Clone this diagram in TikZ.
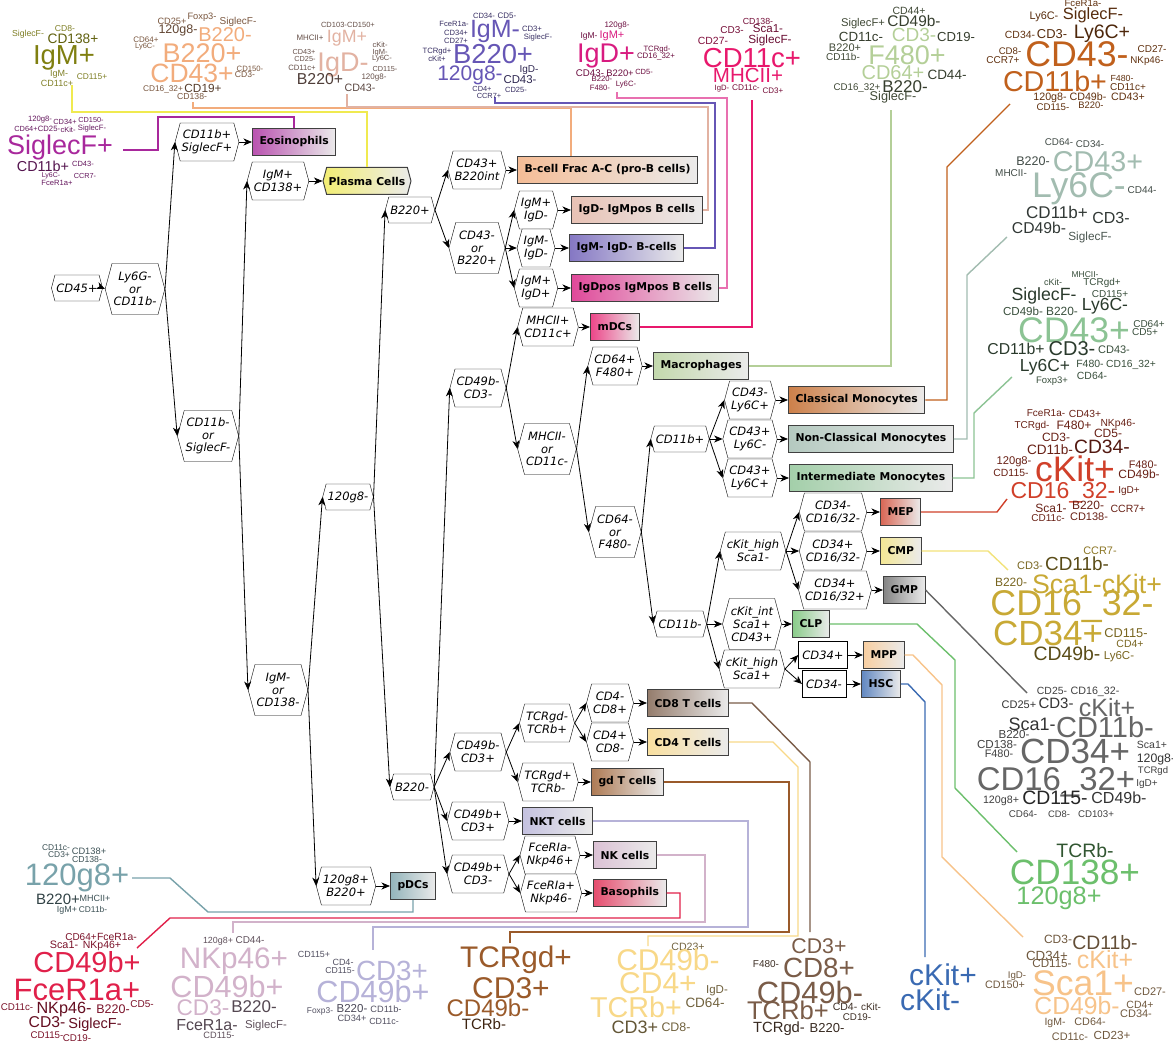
\documentclass[tikz,border=0pt]{standalone}
\usepackage{fontspec}
\setmainfont{DejaVu Sans}[ItalicFont={DejaVu Sans Oblique},BoldFont={DejaVu Sans Bold}]
\newfontfamily\cloudfont{Liberation Sans}
\usetikzlibrary{shapes.symbols,arrows.meta,calc}

% cell type colours
\definecolor{eos}{HTML}{A8289C}
\definecolor{pla}{HTML}{7F7F10}
\definecolor{pll}{HTML}{F0EA50}
\definecolor{bfr}{HTML}{F2AC7C}
\definecolor{idn}{HTML}{E2B2A2}
\definecolor{imn}{HTML}{6656B5}
\definecolor{idp}{HTML}{D81B80}
\definecolor{idl}{HTML}{E870B0}
\definecolor{mdc}{HTML}{E8186C}
\definecolor{mac}{HTML}{B4CF98}
\definecolor{cla}{HTML}{C0601C}
\definecolor{ncl}{HTML}{A2BCB0}
\definecolor{itm}{HTML}{8CC394}
\definecolor{mep}{HTML}{D0402A}
\definecolor{cmp}{HTML}{F2E27A}
\definecolor{cmt}{HTML}{C8A935}
\definecolor{gmp}{HTML}{666666}
\definecolor{clp}{HTML}{6CBF6C}
\definecolor{mpp}{HTML}{F7C38A}
\definecolor{hsc}{HTML}{3A6AB2}
\definecolor{cde}{HTML}{7A5C48}
\definecolor{cdf}{HTML}{F8D888}
\definecolor{gdt}{HTML}{9A5A2A}
\definecolor{nkt}{HTML}{B6B2D8}
\definecolor{nkc}{HTML}{D2B2CA}
\definecolor{bas}{HTML}{E0204A}
\definecolor{pdt}{HTML}{78A2AA}

\begin{document}
\begin{tikzpicture}
  [x=1pt,y=-1pt,
   every node/.style={font=\fontsize{11.5}{12.8}\selectfont},
   hex/.style={signal,signal to=east and west,signal pointer angle=150,draw,fill=white,
     align=center,inner xsep=1.5pt,inner ysep=3pt,minimum height=26pt,
     font=\fontsize{11.5}{12.8}\selectfont\itshape},
   two/.style={minimum height=38pt},
   three/.style={minimum height=51pt},
   plain/.style={draw,fill=white,minimum height=27pt,inner xsep=4pt,
     font=\fontsize{11.5}{12.8}\selectfont\itshape},
   cell/.style={draw=black!75,line width=1pt,anchor=west,minimum height=27pt,inner xsep=7pt,
     font=\fontsize{10.8}{12}\selectfont\bfseries,
     left color=#1!80!white,middle color=#1,right color=black!8},
   edge/.style={-{Stealth[length=8.5pt,width=7pt,inset=2.5pt]},line width=0.8pt},
   link/.style={draw=#1,line width=1.4pt},
   word/.style={anchor=base,inner sep=0pt}]
  \useasboundingbox (0,0) rectangle (1173,1043);

  % gates
  \node[hex] (cd45) at (77,288) {CD45+};
  \node[hex,three] (ly6g) at (135,289) {Ly6G-\\or\\CD11b-};
  \node[hex,two] (cd11bsig) at (207,142) {CD11b+\\SiglecF+};
  \node[hex,three] (cd11bneg) at (208,436) {CD11b-\\or\\SiglecF-};
  \node[hex,two] (igmcd138) at (278,181) {IgM+\\CD138+};
  \node[hex,three] (igmneg138) at (278,690) {IgM-\\or\\CD138-};
  \node[hex] (gneg) at (348,497) {120g8-};
  \node[hex,two] (gpos) at (346,886) {120g8+\\B220+};
  \node[hex] (b220p) at (410,210) {B220+};
  \node[hex] (b220n) at (412,787) {B220-};
  \node[hex,two] (cd43int) at (477,170) {CD43+\\B220int};
  \node[hex,three] (cd43or) at (477,248) {CD43-\\or\\B220+};
  \node[hex,two] (igmpd) at (536,210) {IgM+\\IgD-};
  \node[hex,two] (igmnd) at (536,248) {IgM-\\IgD-};
  \node[hex,two] (igmpdp) at (536,288) {IgM+\\IgD+};
  \node[hex,two] (cd49nn) at (478,388) {CD49b-\\CD3-};
  \node[hex,two] (mhcp) at (548,327) {MHCII+\\CD11c+};
  \node[hex,three] (mhcn) at (547,449) {MHCII-\\or\\CD11c-};
  \node[hex,two] (cd64p) at (615,366) {CD64+\\F480+};
  \node[hex,three] (cd64n) at (615,532) {CD64-\\or\\F480-};
  \node[hex] (cd11bp) at (680,439) {CD11b+};
  \node[hex,two] (ly6cp) at (750,400) {CD43-\\Ly6C+};
  \node[hex,two] (ly6cn) at (750,439) {CD43+\\Ly6C-};
  \node[hex,two] (ly6cpp) at (750,478) {CD43+\\Ly6C+};
  \node[hex] (cd11bn) at (680,624) {CD11b-};
  \node[hex,two] (khsn) at (753,551) {cKit\_high\\Sca1-};
  \node[hex,three] (kint) at (752,624) {cKit\_int\\Sca1+\\CD43+};
  \node[hex,two] (khsp) at (752,669) {cKit\_high\\Sca1+};
  \node[hex,two] (k1) at (833,512) {CD34-\\CD16/32-};
  \node[hex,two] (k2) at (833,551) {CD34+\\CD16/32-};
  \node[hex,two] (k3) at (835,590) {CD34+\\CD16/32+};
  \node[plain] (cd34p) at (823,655) {CD34+};
  \node[plain] (cd34n) at (824,684) {CD34-};
  \node[hex,two] (cd49np) at (478,752) {CD49b-\\CD3+};
  \node[hex,two] (tcrb) at (547,723) {TCRgd-\\TCRb+};
  \node[hex,two] (tcrgd) at (548,782) {TCRgd+\\TCRb-};
  \node[hex,two] (cd8p) at (610,703) {CD4-\\CD8+};
  \node[hex,two] (cd4p) at (610,742) {CD4+\\CD8-};
  \node[hex,two] (cd49pp) at (478,821) {CD49b+\\CD3+};
  \node[hex,two] (cd49pn) at (478,874) {CD49b+\\CD3-};
  \node[hex,two] (fcen) at (550,855) {FceRIa-\\Nkp46+};
  \node[hex,two] (fcep) at (551,893) {FceRIa+\\Nkp46-};

  % cell types
  \node[cell=eos] (eos) at (252,142) {Eosinophils};
  \node[cell=pll,signal,signal to=east and west,signal pointer angle=150,anchor=center,
    inner xsep=2pt] (plasma) at (367,181) {Plasma Cells};
  \node[cell=bfr] (bfrac) at (517,170) {B-cell Frac A-C (pro-B cells)};
  \node[cell=idn] (igdneg) at (571,210) {IgD- IgMpos B cells};
  \node[cell=imn] (igmneg) at (569,248) {IgM- IgD- B-cells};
  \node[cell=idp] (igdpos) at (571,288) {IgDpos IgMpos B cells};
  \node[cell=mdc] (mdcs) at (590,327) {mDCs};
  \node[cell=mac] (macro) at (653,366) {Macrophages};
  \node[cell=cla] (clas) at (788,400) {Classical Monocytes};
  \node[cell=ncl] (nclas) at (788,439) {Non-Classical Monocytes};
  \node[cell=itm] (imo) at (789,478) {Intermediate Monocytes};
  \node[cell=mep] (meps) at (880,512) {MEP};
  \node[cell=cmp] (cmps) at (880,551) {CMP};
  \node[cell=gmp] (gmps) at (883,590) {GMP};
  \node[cell=clp] (clps) at (792,624) {CLP};
  \node[cell=mpp] (mpps) at (863,655) {MPP};
  \node[cell=hsc] (hscs) at (861,684) {HSC};
  \node[cell=cde] (cd8t) at (647,703) {CD8 T cells};
  \node[cell=cdf] (cd4t) at (647,742) {CD4 T cells};
  \node[cell=gdt] (gdts) at (591,782) {gd T cells};
  \node[cell=nkt] (nkts) at (522,821) {NKT cells};
  \node[cell=nkc] (nks) at (593,855) {NK cells};
  \node[cell=bas] (baso) at (593,893) {Basophils};
  \node[cell=pdt] (pdcs) at (390,886) {pDCs};

\foreach \a/\b in {cd45/ly6g,ly6g/cd11bsig,ly6g/cd11bneg,cd11bsig/eos,cd11bneg/igmcd138,
    cd11bneg/igmneg138,igmcd138/plasma,igmneg138/gneg,igmneg138/gpos,gneg/b220p,gneg/b220n,
    gpos/pdcs,b220p/cd43int,b220p/cd43or,cd43int/bfrac,cd43or/igmpd,cd43or/igmnd,cd43or/igmpdp,
    igmpd/igdneg,igmnd/igmneg,igmpdp/igdpos,b220n/cd49nn,b220n/cd49np,b220n/cd49pp,b220n/cd49pn,
    cd49nn/mhcp,cd49nn/mhcn,mhcp/mdcs,mhcn/cd64p,mhcn/cd64n,cd64p/macro,cd64n/cd11bp,cd64n/cd11bn,
    cd11bp/ly6cp,cd11bp/ly6cn,cd11bp/ly6cpp,ly6cp/clas,ly6cn/nclas,ly6cpp/imo,cd11bn/khsn,
    cd11bn/kint,cd11bn/khsp,khsn/k1,khsn/k2,khsn/k3,k1/meps,k2/cmps,k3/gmps,kint/clps,
    khsp/cd34p,khsp/cd34n,cd34p/mpps,cd34n/hscs,cd49np/tcrb,cd49np/tcrgd,tcrb/cd8p,tcrb/cd4p,
    cd8p/cd8t,cd4p/cd4t,tcrgd/gdts,cd49pp/nkts,cd49pn/fcen,cd49pn/fcep,fcen/nks,fcep/baso}
   \draw[edge] (\a.east) -- (\b.west);

  % ends of the links, at the word clouds
  \coordinate (eosend) at (123,150);
  \coordinate (plaend) at (72,85);
  \coordinate (bfrend) at (193,102);
  \coordinate (idnend) at (347,94);
  \coordinate (imnend) at (495,97);
  \coordinate (idpend) at (617,92);
  \coordinate (mdcend) at (752,100);
  \coordinate (macend) at (891,110);
  \coordinate (claend) at (1010,104);
  \coordinate (nclend) at (1007,237);
  \coordinate (itmend) at (1012,377);
  \coordinate (mepend) at (1007,499);
  \coordinate (cmpend) at (1008,570);
  \coordinate (gmpend) at (1027,693);
  \coordinate (clpend) at (1017,852);
  \coordinate (mppend) at (1023,937);
  \coordinate (hscend) at (925,957);
  \coordinate (cdeend) at (810,932);
  \coordinate (cdfend) at (648,946);
  \coordinate (gdtend) at (510,943);
  \coordinate (nktend) at (373,950);
  \coordinate (nkcend) at (233,933);
  \coordinate (basend) at (137,948);
  \coordinate (pdtend) at (132,878);

  \draw[link=eos] (eos.north) |- (158,117) |- (eosend);
  \draw[link=pll] (plasma.north) |- (72,112) -- (plaend);
  \draw[link=bfr] ($(bfrac.north west)+(54,0)$) |- (193,108) -- (bfrend);
  \draw[link=idn] (igdneg.east) -| (708,107) -| (idnend);
  \draw[link=imn] (igmneg.east) -| (715,103) -| (imnend);
  \draw[link=idl] (igdpos.east) -| (727,98) -| (idpend);
  \draw[link=mdc] (mdcs.east) -| (mdcend);
  \draw[link=mac] (macro.east) -| (macend);
  \draw[link=cla] (clas.east) -| (947,167) -- (claend);
  \draw[link=ncl] (nclas.east) -| (967,275) -- (nclend);
  \draw[link=itm] (imo.east) -| (974,413) -- (itmend);
  \draw[link=mep] (meps.east) -- (997,512) -- (mepend);
  \draw[link=cmp] (cmps.east) -- (988,551) -- (cmpend);
  \draw[link=gmp] (gmps.east) -- (gmpend);
  \draw[link=clp] (clps.east) -- (917,624) -- (955,660) -- (955,788) -- (clpend);
  \draw[link=mpp] (mpps.east) -- (913,655) -- (942,685) -- (942,857) -- (mppend);
  \draw[link=hsc] (hscs.east) -- (908,684) -- (925,702) -- (hscend);
  \draw[link=cde] (cd8t.east) -- (752,703) -- (810,762) -- (cdeend);
  \draw[link=cdf] (cd4t.east) -- (773,742) -- (798,767) |- (648,936) -- (cdfend);
  \draw[link=gdt] (gdts.east) -| (789,932) -| (gdtend);
  \draw[link=nkt] (nkts.east) -| (748,927) -| (nktend);
  \draw[link=nkc] (nks.east) -| (705,922) -| (nkcend);
  \draw[link=bas] (baso.east) -| (680,918) -- (170,918) -- (basend);
  \draw[link=pdt] (pdcs.south) |- (208,912) -- (170,878) -- (pdtend);

  % word clouds
\foreach \x/\y/\fs/\col/\w [count=\i] in {
  40/122/7.7/eos!60!black/120g8-, 65/125/7.4/eos!60!black/CD34+, 91/123/7.3/eos!60!black/CD150-,
  26/132/7.4/eos!60!black/CD64+, 49/132/7.7/eos!60!black/CD25-, 68/133/7.5/eos!60!black/cKit-,
  92/131/7.7/eos!60!black/SiglecF-, 60/155/27/eos/SiglecF+, 43/172/14.4/eos!50!black/CD11b+,
  83/167/7.5/eos!60!black/CD43-, 51/178/7/eos!60!black/Ly6C-, 85/179/7.3/eos!60!black/CCR7-,
  57/186/7.6/eos!60!black/FceR1a+}
  \node[word,text=\col,font=\cloudfont\fontsize{\fs}{\fs}\selectfont] (eos-w\i) at (\x,\y) {\w};
\foreach \x/\y/\fs/\col/\w [count=\i] in {
  28/37/8.7/pla!80!gray/SiglecF-, 65/32/8.6/pla!80!gray/CD8-, 73/44/13.7/pla!75!black/CD138+,
  64/65/27.5/pla/IgM+, 59/77/9/pla!80!gray/IgM-, 92/80/8.4/pla!80!gray/CD115+,
  57/87/9/pla!80!gray/CD11c+}
  \node[word,text=\col,font=\cloudfont\fontsize{\fs}{\fs}\selectfont] (pla-w\i) at (\x,\y) {\w};
\foreach \x/\y/\fs/\col/\w [count=\i] in {
  172/25/9.2/bfr!50!black/CD25+, 202/20/9.3/bfr!50!black/Foxp3-, 238/25/10/bfr!50!black/SiglecF-,
  178/34/12.5/bfr!40!black/120g8-, 225/42/20/bfr/B220-, 146/43/8/bfr!50!black/CD64+,
  145/49/7.5/bfr!50!black/Ly6C-, 202/63/27/bfr/B220+, 192/83/26.5/bfr/CD43+,
  250/72/7.7/bfr!50!black/CD150-, 245/78/8.6/bfr!50!black/CD3-, 163/92/8.3/bfr!50!black/CD16\_32+,
  203/93/11.8/bfr!35!black/CD19+, 192/100/8.7/bfr!50!black/CD138-}
  \node[word,text=\col,font=\cloudfont\fontsize{\fs}{\fs}\selectfont] (bfr-w\i) at (\x,\y) {\w};
\foreach \x/\y/\fs/\col/\w [count=\i] in {
  334/28/7.5/idn!45!black/CD103-, 361/28/7.5/idn!45!black/CD150+, 310/41/7.9/idn!45!black/MHCII+,
  347/43/17.8/idn/IgM+, 304/55/7.3/idn!45!black/CD43+, 305/62/7.3/idn!45!black/CD25-,
  302/71/7.7/idn!45!black/CD11c+, 343/72/27/idn/IgD-, 380/48/7.5/idn!45!black/cKit-,
  380/55/7.5/idn!45!black/IgM-, 382/61/7.5/idn!45!black/Ly6C-, 385/72/7.3/idn!45!black/CD115-,
  374/80/8/idn!45!black/120g8-, 320/85/15.8/idn!35!black/B220+, 360/92/10.7/idn!40!black/CD43-}
  \node[word,text=\col,font=\cloudfont\fontsize{\fs}{\fs}\selectfont] (idn-w\i) at (\x,\y) {\w};
\foreach \x/\y/\fs/\col/\w [count=\i] in {
  484/19/7.6/imn!55!black/CD34-, 507/19/8/imn!55!black/CD5-, 454/27/7.6/imn!55!black/FceR1a-,
  456/36/7.6/imn!55!black/CD34+, 456/44/7.6/imn!55!black/CD27+, 495/38/25/imn/IgM-,
  532/32/7.7/imn!55!black/CD3+, 538/40/7.7/imn!55!black/SiglecF-, 437/54/7.7/imn!55!black/TCRgd+,
  437/62/7.7/imn!55!black/cKit+, 493/64/27.4/imn/B220+, 470/81/21/imn/120g8-,
  529/73/10/imn!45!black/IgD-, 520/84/11.4/imn!45!black/CD43-, 482/92/7.4/imn!55!black/CD4+,
  489/99/7.4/imn!55!black/CCR7+, 516/93/7.5/imn!55!black/CD25-}
  \node[word,text=\col,font=\cloudfont\fontsize{\fs}{\fs}\selectfont] (imn-w\i) at (\x,\y) {\w};
\foreach \x/\y/\fs/\col/\w [count=\i] in {
  617/28/8/idp!50!black/120g8-, 589/39/8.5/idp!50!black/IgM-, 612/39/11/idp/IgM+,
  606/63/27/idp/IgD+, 657/52/7.7/idp!50!black/TCRgd-, 656/59/7.9/idp!50!black/CD16\_32+,
  590/77/9.7/idp!50!black/CD43-, 620/77/9.4/idp!50!black/B220+, 644/75/7.5/idp!50!black/CD5-,
  602/82/7.7/idp!50!black/B220-, 600/91/7.7/idp!50!black/F480-, 626/87/7.7/idp!50!black/Ly6C-}
  \node[word,text=\col,font=\cloudfont\fontsize{\fs}{\fs}\selectfont] (idp-w\i) at (\x,\y) {\w};
\foreach \x/\y/\fs/\col/\w [count=\i] in {
  758/25/8.8/mdc!50!black/CD138-, 732/34/10/mdc!50!black/CD3-, 768/33/11.5/mdc!45!black/Sca1-,
  713/45/10.4/mdc!55!black/CD27-, 770/44/11.8/mdc!45!black/SiglecF-, 752/68/27.5/mdc/CD11c+,
  748/83/20.5/mdc/MHCII+, 722/91/7.7/mdc!50!black/IgD-, 746/91/8.3/mdc!50!black/CD11c-,
  773/94/8/mdc!50!black/CD3+}
  \node[word,text=\col,font=\cloudfont\fontsize{\fs}{\fs}\selectfont] (mdc-w\i) at (\x,\y) {\w};
\foreach \x/\y/\fs/\col/\w [count=\i] in {
  909/15/10.5/mac!35!black/CD44+, 863/27/11.2/mac!35!black/SiglecF+, 914/27/15.4/mac!30!black/CD49b-,
  861/42/13.3/mac!30!black/CD11c-, 914/42/19/mac/CD3-, 956/42/13.1/mac!30!black/CD19-,
  845/52/11/mac!35!black/B220+, 843/61/10/mac!35!black/CD11b-, 907/65/27/mac/F480+,
  893/80/20/mac/CD64+, 947/80/13.5/mac!30!black/CD44-, 857/91/9.7/mac!35!black/CD16\_32+,
  905/93/17/mac!30!black/B220-, 893/101/12.7/mac!35!black/SiglecF-}
  \node[word,text=\col,font=\cloudfont\fontsize{\fs}{\fs}\selectfont] (mac-w\i) at (\x,\y) {\w};
\foreach \x/\y/\fs/\col/\w [count=\i] in {
  1083/7/9.6/cla!50!black/FceR1a-, 1044/20/10.9/cla!45!black/Ly6C-, 1093/20/16.4/cla!45!black/SiglecF-,
  1020/39/10.4/cla!50!black/CD34-, 1052/39/12.9/cla!45!black/CD3-, 1102/39/19.5/cla!40!black/Ly6C+,
  1010/55/9.6/cla!50!black/CD8-, 1003/64/10/cla!50!black/CCR7+, 1077/67/35.7/cla/CD43-,
  1152/53/10/cla!50!black/CD27-, 1147/64/9.8/cla!50!black/NKp46-, 1055/92/28.7/cla/CD11b+,
  1122/82/8.8/cla!50!black/F480-, 1128/91/10/cla!50!black/CD11c+, 1050/101/10.7/cla!50!black/120g8-,
  1088/101/10.7/cla!50!black/CD49b-, 1128/101/10.7/cla!50!black/CD43+,
  1053/111/9.7/cla!50!black/CD115-, 1091/109/9.4/cla!50!black/B220-}
  \node[word,text=\col,font=\cloudfont\fontsize{\fs}{\fs}\selectfont] (cla-w\i) at (\x,\y) {\w};
\foreach \x/\y/\fs/\col/\w [count=\i] in {
  1059/146/9.8/ncl!40!black/CD64-, 1090/148/9.8/ncl!40!black/CD34-, 1033/166/12.5/ncl!40!black/B220-,
  1011/177/10/ncl!40!black/MHCII-, 1098/172/28.7/ncl/CD43+, 1079/198/35.6/ncl/Ly6C-,
  1142/194/10/ncl!40!black/CD44-, 1057/219/17/ncl!30!black/CD11b+, 1111/224/16/ncl!30!black/CD3-,
  1039/234/15.7/ncl!30!black/CD49b-, 1090/241/11.8/ncl!45!black/SiglecF-}
  \node[word,text=\col,font=\cloudfont\fontsize{\fs}{\fs}\selectfont] (ncl-w\i) at (\x,\y) {\w};
\foreach \x/\y/\fs/\col/\w [count=\i] in {
  1085/277/8.5/itm!40!black/MHCII-, 1053/285/9/itm!40!black/cKit-, 1102/286/9.9/itm!40!black/TCRgd+,
  1044/300/17.7/itm!30!black/SiglecF-, 1110/297/10/itm!40!black/CD115+, 1105/310/17.5/itm!30!black/Ly6C-,
  1023/315/11.6/itm!40!black/CD49b-, 1062/315/11.9/itm!40!black/B220-, 1074/342/35.6/itm/CD43+,
  1149/327/10/itm!40!black/CD64+, 1145/335/10/itm!40!black/CD5+, 1016/354/15.8/itm!30!black/CD11b+,
  1072/355/20/itm!30!black/CD3-, 1114/353/11/itm!40!black/CD43-, 1045/371/17.4/itm!30!black/Ly6C+,
  1090/367/10.5/itm!40!black/F480-, 1131/367/10.3/itm!40!black/CD16\_32+,
  1052/383/9.5/itm!40!black/Foxp3+, 1092/379/10.4/itm!40!black/CD64-}
  \node[word,text=\col,font=\cloudfont\fontsize{\fs}{\fs}\selectfont] (itm-w\i) at (\x,\y) {\w};
\foreach \x/\y/\fs/\col/\w [count=\i] in {
  1046/416/10/mep!50!black/FceR1a-, 1085/417/10.3/mep!50!black/CD43+, 1032/428/10/mep!50!black/TCRgd-,
  1074/429/12.2/mep!50!black/F480+, 1118/426/10.3/mep!50!black/NKp46-, 1056/441/12/mep!50!black/CD3-,
  1108/437/12/mep!50!black/CD5-, 1050/454/13.6/mep!50!black/CD11b-, 1102/453/19.3/mep!40!black/CD34-,
  1014/464/11.2/mep!50!black/120g8-, 1011/476/10.4/mep!50!black/CD115-, 1075/481/35.5/mep/cKit+,
  1143/468/10.9/mep!50!black/F480-, 1139/478/12/mep!50!black/CD49b-, 1063/498/23/mep/CD16\_32-,
  1129/493/10/mep!50!black/IgD+, 1051/512/12/mep!50!black/Sca1-, 1088/509/12/mep!50!black/B220-,
  1128/512/10.5/mep!50!black/CCR7+, 1048/521/10/mep!50!black/CD11c-, 1089/520/11/mep!50!black/CD138-}
  \node[word,text=\col,font=\cloudfont\fontsize{\fs}{\fs}\selectfont] (mep-w\i) at (\x,\y) {\w};
\foreach \x/\y/\fs/\col/\w [count=\i] in {
  1100/554/10.9/cmt!70!black/CCR7-, 1030/569/11/cmt!60!black/CD3-, 1077/570/18.9/cmt!45!black/CD11b-,
  1011/586/12/cmt!60!black/B220-, 1097/593/26.7/cmt/Sca1-cKit+, 1072/615/35.8/cmt/CD16\_32-,
  1048/645/35/cmt/CD34+, 1126/637/12.8/cmt!60!black/CD115-, 1130/647/10.5/cmt!60!black/CD4+,
  1067/660/19.4/cmt!45!black/CD49b-, 1119/659/11.5/cmt!60!black/Ly6C-}
  \node[word,text=\col,font=\cloudfont\fontsize{\fs}{\fs}\selectfont] (cmp-w\i) at (\x,\y) {\w};
\foreach \x/\y/\fs/\col/\w [count=\i] in {
  1052/694/10.4/black!75/CD25-, 1095/694/10.7/black!75/CD16\_32-, 1019/708/11/black!80/CD25+,
  1056/708/15/black!80/CD3-, 1107/716/25/gmp/cKit+, 1032/730/18/black!80/Sca1-,
  1105/737/29/gmp/CD11b-, 1014/738/11.6/black!75/B220-, 997/748/11.6/black!75/CD138-,
  999/757/10.9/black!75/F480-, 1075/763/35/gmp/CD34+, 1152/748/10.5/black!75/Sca1+,
  1156/762/12.3/black!80/120g8-, 1153/773/9.5/black!75/TCRgd, 1056/790/32.9/gmp/CD16\_32+,
  1147/786/10/black!75/IgD+, 1001/803/10.7/black!75/120g8+, 1055/804/19.4/black!85/CD115-,
  1119/803/16/black!80/CD49b-, 1023/817/9.8/black!75/CD64-, 1059/817/9.4/black!75/CD8-,
  1096/817/9.7/black!75/CD103+}
  \node[word,text=\col,font=\cloudfont\fontsize{\fs}{\fs}\selectfont] (gmp-w\i) at (\x,\y) {\w};
\foreach \x/\y/\fs/\col/\w [count=\i] in {
  1085/857/19.4/clp!45!black/TCRb-, 1075/884/35.2/clp/CD138+, 1059/904/25.3/clp/120g8+}
  \node[word,text=\col,font=\cloudfont\fontsize{\fs}{\fs}\selectfont] (clp-w\i) at (\x,\y) {\w};
\foreach \x/\y/\fs/\col/\w [count=\i] in {
  1058/943/12/mpp!45!black/CD3-, 1105/949/19.4/mpp!40!black/CD11b-, 1047/960/13.3/mpp!45!black/CD34+,
  1052/967/11.6/mpp!45!black/CD115-, 1105/968/25/mpp/cKit+, 1017/978/9.7/mpp!45!black/IgD-,
  1005/988/10.8/mpp!45!black/CD150+, 1083/995/35.6/mpp/Sca1+, 1150/995/11/mpp!45!black/CD27-,
  1077/1014/24.7/mpp/CD49b-, 1140/1008/10.5/mpp!45!black/CD4+, 1136/1017/11/mpp!45!black/CD34-,
  1055/1025/10.5/mpp!45!black/IgM-, 1090/1025/10.8/mpp!45!black/CD64-,
  1070/1040/10.9/mpp!45!black/CD11c-, 1112/1039/11.7/mpp!45!black/CD23+}
  \node[word,text=\col,font=\cloudfont\fontsize{\fs}{\fs}\selectfont] (mpp-w\i) at (\x,\y) {\w};
\foreach \x/\y/\fs/\col/\w [count=\i] in {
  943/985/30/hsc/cKit+, 930/1010/30/hsc/cKit-}
  \node[word,text=\col,font=\cloudfont\fontsize{\fs}{\fs}\selectfont] (hsc-w\i) at (\x,\y) {\w};
\foreach \x/\y/\fs/\col/\w [count=\i] in {
  819/953/21.3/cde/CD3+, 766/967/10/cde!50!black/F480-, 819/977/27.8/cde/CD8+,
  810/1003/30.8/cde/CD49b-, 788/1019/25.6/cde/TCRb+, 845/1010/10.5/cde!50!black/CD4-,
  871/1010/10/cde!50!black/cKit-, 857/1020/9.8/cde!50!black/CD19-, 779/1032/14.8/cde!45!black/TCRgd-,
  827/1032/13/cde!45!black/B220-}
  \node[word,text=\col,font=\cloudfont\fontsize{\fs}{\fs}\selectfont] (cde-w\i) at (\x,\y) {\w};
\foreach \x/\y/\fs/\col/\w [count=\i] in {
  688/950/10.6/cdf!45!black/CD23+, 668/970/30/cdf/CD49b-, 658/993/30/cdf/CD4+,
  717/993/11.5/cdf!45!black/IgD-, 636/1017/28.7/cdf/TCRb+, 705/1007/13.5/cdf!45!black/CD64-,
  635/1033/18/cdf!40!black/CD3+, 676/1031/12.4/cdf!45!black/CD8-}
  \node[word,text=\col,font=\cloudfont\fontsize{\fs}{\fs}\selectfont] (cdf-w\i) at (\x,\y) {\w};
\foreach \x/\y/\fs/\col/\w [count=\i] in {
  516/967/29.8/gdt/TCRgd+, 511/998/30/gdt/CD3+, 488/1016/24/gdt/CD49b-, 484/1029/15/gdt!40!black/TCRb-}
  \node[word,text=\col,font=\cloudfont\fontsize{\fs}{\fs}\selectfont] (gdt-w\i) at (\x,\y) {\w};
\foreach \x/\y/\fs/\col/\w [count=\i] in {
  314/957/8.9/nkt!45!black/CD115+, 343/965/9/nkt!45!black/CD4-, 340/973/8.7/nkt!45!black/CD115-,
  392/980/27.8/nkt/CD3+, 373/1002/30.6/nkt/CD49b+, 320/1013/8.4/nkt!45!black/Foxp3-,
  352/1012/11.5/nkt!40!black/B220-, 386/1012/9.2/nkt!45!black/CD11b-, 352/1021/9.2/nkt!45!black/CD34+,
  384/1024/8.9/nkt!45!black/CD11c-}
  \node[word,text=\col,font=\cloudfont\fontsize{\fs}{\fs}\selectfont] (nkt-w\i) at (\x,\y) {\w};
\foreach \x/\y/\fs/\col/\w [count=\i] in {
  218/943/8.9/nkc!45!black/120g8+, 250/943/10/nkc!45!black/CD44-, 234/968/29.7/nkc/NKp46+,
  227/997/30.6/nkc/CD49b+, 203/1015/22.6/nkc/CD3-, 254/1012/17/nkc!40!black/B220-,
  207/1030/16/nkc!40!black/FceR1a-, 266/1028/11.4/nkc!45!black/SiglecF-, 219/1038/9.2/nkc!45!black/CD115-}
  \node[word,text=\col,font=\cloudfont\fontsize{\fs}{\fs}\selectfont] (nkc-w\i) at (\x,\y) {\w};
\foreach \x/\y/\fs/\col/\w [count=\i] in {
  81/940/10/bas!55!black/CD64+, 117/940/10.4/bas!55!black/FceR1a-, 64/948/10.8/bas!55!black/Sca1-,
  102/948/10.5/bas!55!black/NKp46+, 87/972/29/bas/CD49b+, 77/1000/31/bas/FceR1a+,
  17/1010/9.8/bas!55!black/CD11c-, 64/1013/16.2/bas!45!black/NKp46-, 113/1013/12.5/bas!55!black/B220-,
  142/1007/10/bas!55!black/CD5-, 47/1027/15.7/bas!45!black/CD3-, 95/1028/14.5/bas!45!black/SiglecF-,
  47/1038/9.7/bas!55!black/CD115-, 77/1041/9.8/bas!55!black/CD19-}
  \node[word,text=\col,font=\cloudfont\fontsize{\fs}{\fs}\selectfont] (bas-w\i) at (\x,\y) {\w};
\foreach \x/\y/\fs/\col/\w [count=\i] in {
  56/850/8.4/pdt!50!black/CD11c-, 89/854/9.3/pdt!50!black/CD138+, 59/857/8.4/pdt!50!black/CD3+,
  87/862/8.7/pdt!50!black/CD138-, 77/885/31/pdt/120g8+, 58/904/15/pdt!40!black/B220+,
  95/901/9/pdt!50!black/MHCII+, 67/912/8.9/pdt!50!black/IgM+, 93/912/8.4/pdt!50!black/CD11b-}
  \node[word,text=\col,font=\cloudfont\fontsize{\fs}{\fs}\selectfont] (pdt-w\i) at (\x,\y) {\w};

\end{tikzpicture}
\end{document}
